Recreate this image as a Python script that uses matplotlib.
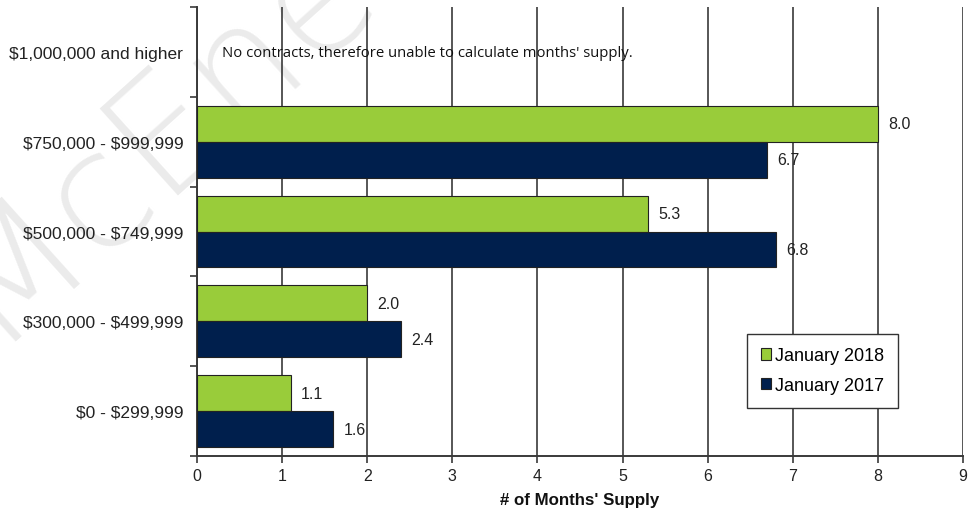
import numpy as np
import matplotlib
matplotlib.use("Agg")
import matplotlib.pyplot as plt

categories = ["$0 - $299,999", "$300,000 - $499,999", "$500,000 - $749,999",
              "$750,000 - $999,999", "$1,000,000 and higher"]
jan_2018 = [1.1, 2.0, 5.3, 8.0, None]
jan_2017 = [1.6, 2.4, 6.8, 6.7, None]
note = "No contracts, therefore unable to calculate months' supply."

green = "#99cc3a"
navy = "#001f4d"
grid_c = "#3a3a3a"

plt.rcParams['font.family'] = ['Liberation Sans', 'DejaVu Sans']
plt.rcParams['text.parse_math'] = False

fig = plt.figure(figsize=(9.72, 5.1), dpi=100)
ax = fig.add_axes([0.2027, 0.104, 0.788, 0.880])
ax.set_zorder(1)
ax.patch.set_alpha(0)

# faint watermark behind everything
fig.text(-0.01, 0.33, "McEnearney", rotation=42, rotation_mode="anchor",
         fontsize=115, color="#ebebeb", ha="left", va="baseline", zorder=0,
         family=["DejaVu Sans"], fontweight="light")

y = np.arange(len(categories))
h = 0.4
for i in range(len(categories)):
    if jan_2018[i] is None:
        continue
    ax.barh(y[i] + h / 2, jan_2018[i], height=h, color=green, edgecolor="#222222",
            linewidth=0.8, zorder=3, label="January 2018" if i == 0 else None)
    ax.barh(y[i] - h / 2, jan_2017[i], height=h, color=navy, edgecolor="#222222",
            linewidth=0.8, zorder=3, label="January 2017" if i == 0 else None)
    ax.text(jan_2018[i] + 0.12, y[i] + h / 2, f"{jan_2018[i]:.1f}", va="center",
            ha="left", fontsize=11.5, color="#222222")
    ax.text(jan_2017[i] + 0.12, y[i] - h / 2, f"{jan_2017[i]:.1f}", va="center",
            ha="left", fontsize=11.5, color="#222222")

ax.text(0.29, y[4], note, va="center", ha="left", fontsize=10.75,
        family=["Open Sans", "DejaVu Sans"], color="#111111")

ax.set_xlim(0, 9)
ax.set_ylim(-0.5, len(categories) - 0.5)
ax.set_xticks(range(10))
ax.set_yticks(y)
ax.set_yticklabels(categories)
ax.set_yticks(np.arange(-0.5, len(categories)), minor=True)
ax.tick_params(axis="y", which="major", length=0, pad=10, labelsize=12.5,
               labelcolor="#222222")
ax.tick_params(axis="y", which="minor", length=5, width=1.2, color=grid_c)
ax.tick_params(axis="x", length=5, width=1.2, color=grid_c, labelsize=11.5,
               labelcolor="#222222", pad=4)

ax.grid(axis="x", color=grid_c, linewidth=1.2, zorder=1)
ax.set_axisbelow(True)
for s in ["top", "right"]:
    ax.spines[s].set_visible(False)
for s in ["left", "bottom"]:
    ax.spines[s].set_color(grid_c)
    ax.spines[s].set_linewidth(1.4)

ax.set_xlabel("# of Months' Supply", fontweight="bold", fontsize=12.2,
              labelpad=6, color="#111111")

leg = ax.legend(loc="upper left", bbox_to_anchor=(0.718, 0.272), fontsize=13,
                frameon=True, fancybox=False, handlelength=0.6, handleheight=0.6,
                handletextpad=0.2, borderpad=0.75, labelspacing=0.7,
                borderaxespad=0, framealpha=1)
leg.get_frame().set_edgecolor("#333333")
leg.get_frame().set_linewidth(1.0)
leg.set_zorder(5)
# widen the legend box a little on the right
fig.canvas.draw()
frame = leg.get_frame()
frame.set_width(frame.get_width() + 12)

fig.savefig("out.png", dpi=100)
